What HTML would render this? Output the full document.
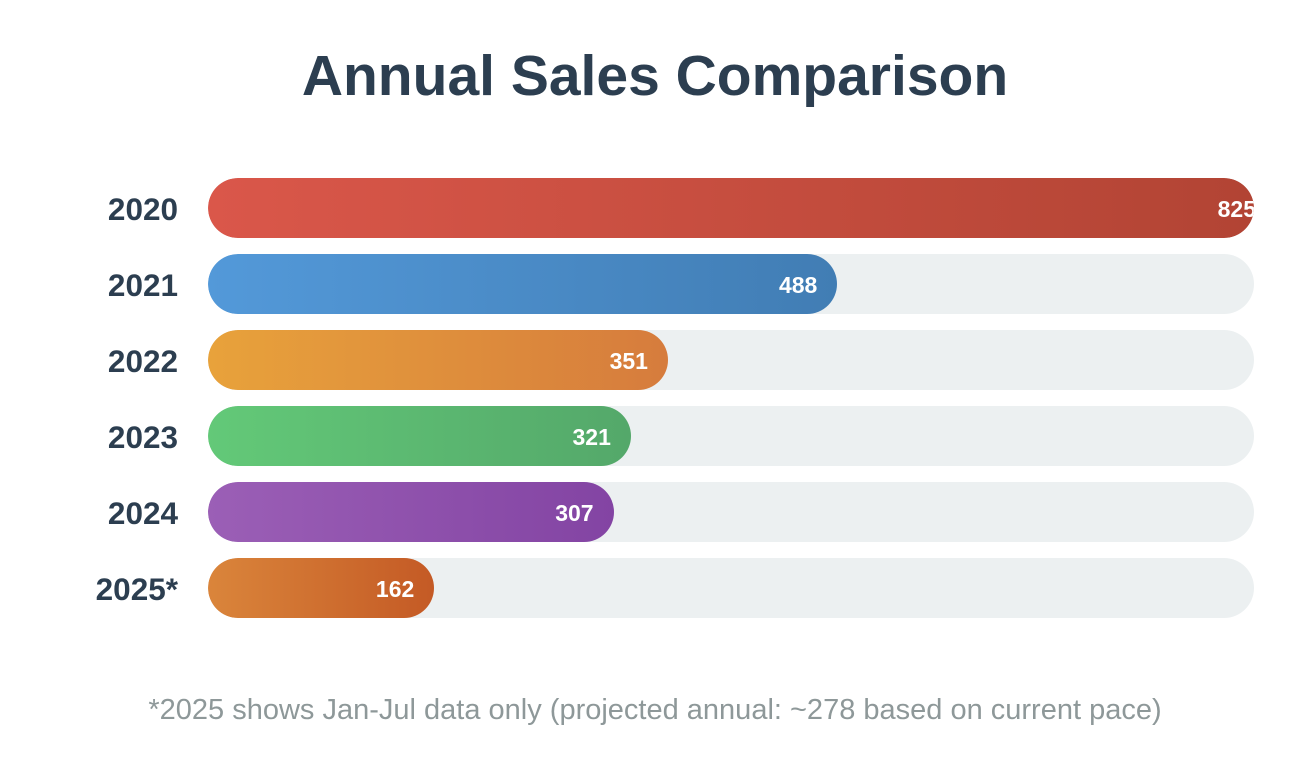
<!DOCTYPE html>
<html><head><meta charset="utf-8"><style>
body{margin:0;width:1296px;height:776px;background:#fff;font-family:"Liberation Sans",Arial,sans-serif;overflow:hidden;position:relative}
#title{position:absolute;left:0;width:1296px;top:44px;text-align:center;font-size:57px;font-weight:bold;color:#2c3e50;margin:0;line-height:64px;padding-left:14px;box-sizing:border-box}
.lbl{position:absolute;width:178px;left:0;text-align:right;font-size:31.5px;font-weight:bold;color:#2c3e50;line-height:62px}
.track{position:absolute;left:208px;width:1046px;height:60px;border-radius:30px;background:#ecf0f1;overflow:hidden}
.bar{position:absolute;left:0;top:0;height:60px;border-radius:30px;overflow:hidden}
.val{position:absolute;top:0;line-height:62px;font-size:23px;font-weight:bold;color:#fff;white-space:nowrap}
#note{position:absolute;left:0;width:1296px;top:694px;text-align:center;font-size:29px;color:#8e9899;padding-left:14px;box-sizing:border-box}
</style></head><body>
<h1 id="title">Annual Sales Comparison</h1>
<div id="chart"></div>
<div id="note">*2025 shows Jan-Jul data only (projected annual: ~278 based on current pace)</div>
<script>
const categories=["2020","2021","2022","2023","2024","2025*"];
const values=[825,488,351,321,307,162];
const colorsStart=["#da574a","#5399d9","#e8a23b","#63c978","#9b5fb6","#da853b"];
const colorsEnd=["#b24434","#417db4","#d67c3d","#54a86a","#8344a3","#c45a25"];
const maxV=Math.max(...values);
const W=1046;
function xScale(v){return 26+(v/maxV)*(W-26);}
const chart=document.getElementById('chart');
categories.forEach((c,i)=>{
  const y=178+i*76;
  const l=document.createElement('div');l.className='lbl';l.style.top=y+'px';l.textContent=c;
  
  
  chart.appendChild(l);
  const t=document.createElement('div');t.className='track';t.style.top=y+'px';
  
  
  const b=document.createElement('div');b.className='bar';
  const w=xScale(values[i]);
  b.style.width=w+'px';
  b.style.background='linear-gradient(90deg,'+colorsStart[i]+','+colorsEnd[i]+')';
  
  
  const v=document.createElement('div');v.className='val';v.textContent=values[i];
  const r=values[i]===maxV?-2:20;
  v.style.right=r+'px';
  
  
  b.appendChild(v);t.appendChild(b);chart.appendChild(t);
});
</script>
</body></html>
